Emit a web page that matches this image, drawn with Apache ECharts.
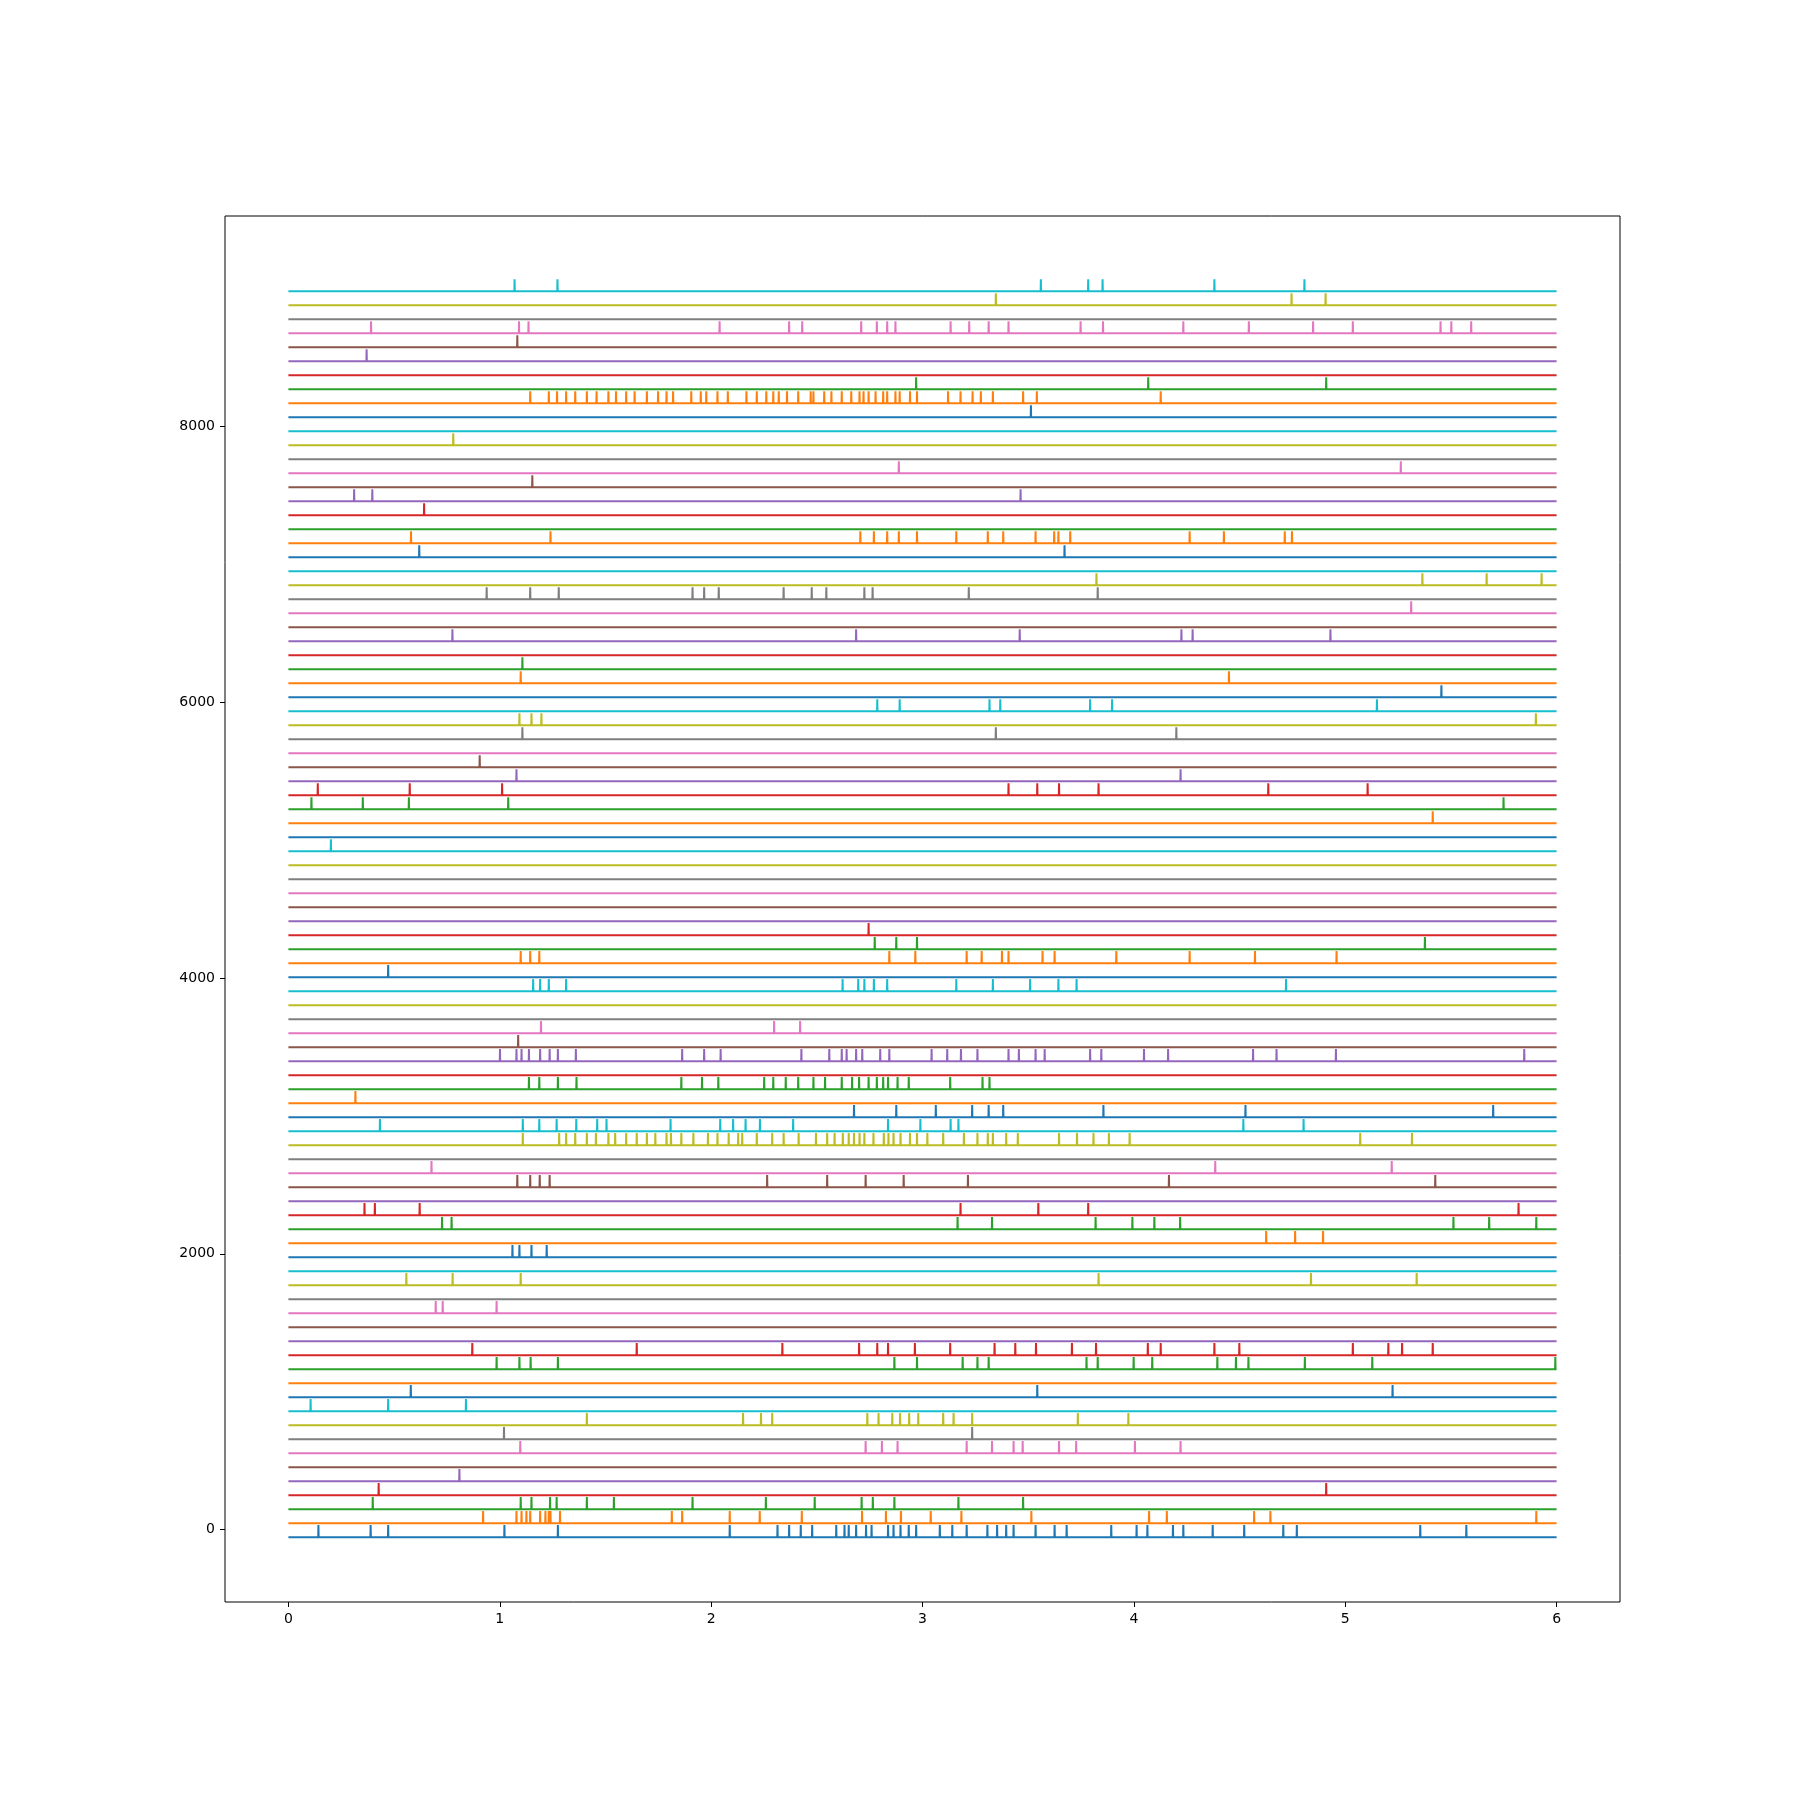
<!DOCTYPE html>
<html>
<head>
<meta charset="utf-8">
<script src="https://cdn.jsdelivr.net/npm/echarts@6/dist/echarts.min.js"></script>
<style>
html,body{margin:0;padding:0;background:#fff;}
#chart{width:1800px;height:1800px;}
</style>
</head>
<body>
<div id="chart"></div>
<script>
// tab10 colour cycle
const colors = ['#1f77b4','#ff7f0e','#2ca02c','#d62728','#9467bd','#8c564b','#e377c2','#7f7f7f','#bcbd22','#17becf'];
const xTicks = [0,1,2,3,4,5,6];
const yTicks = [0,2000,4000,6000,8000];
const baseline0 = -55;      // resting level of trace 0
const traceStep = 101.5;    // vertical offset between traces
const spikeHeight = 88;
const tEnd = 6;

// spike times (s) for each trace, bottom (0) to top (89)
const spikes = [
/*0*/ [0.141,0.388,0.471,1.021,1.274,2.087,2.313,2.368,2.423,2.477,2.591,2.630,2.650,2.685,2.732,2.758,2.836,2.862,2.895,2.934,2.969,3.081,3.140,3.208,3.306,3.352,3.395,3.430,3.534,3.624,3.681,3.892,4.012,4.063,4.184,4.233,4.372,4.521,4.706,4.770,5.354,5.572],
/*1*/ [0.920,1.078,1.102,1.125,1.143,1.190,1.215,1.231,1.239,1.284,1.813,1.862,2.087,2.229,2.428,2.713,2.826,2.897,3.038,3.183,3.514,4.071,4.155,4.568,4.645,5.903],
/*2*/ [0.398,1.098,1.149,1.237,1.268,1.411,1.539,1.911,2.258,2.489,2.711,2.764,2.866,3.169,3.475],
/*3*/ [0.426,4.909],
/*4*/ [0.808],
/*5*/ [],
/*6*/ [1.096,2.730,2.807,2.881,3.208,3.328,3.430,3.473,3.645,3.726,4.004,4.220],
/*7*/ [1.019,3.234],
/*8*/ [1.411,2.150,2.235,2.288,2.738,2.791,2.856,2.893,2.936,2.979,3.097,3.146,3.234,3.734,3.973],
/*9*/ [0.104,0.471,0.839],
/*10*/ [0.578,3.542,5.223],
/*11*/ [],
/*12*/ [0.984,1.092,1.145,1.274,2.866,2.973,3.189,3.259,3.312,3.775,3.828,3.998,4.086,4.394,4.482,4.541,4.808,5.127,5.993],
/*13*/ [0.869,1.647,2.336,2.699,2.785,2.836,2.963,3.130,3.340,3.438,3.536,3.706,3.820,4.065,4.126,4.380,4.498,5.035,5.203,5.268,5.413],
/*14*/ [],
/*15*/ [],
/*16*/ [0.696,0.729,0.984],
/*17*/ [],
/*18*/ [0.557,0.776,1.098,3.832,4.837,5.337],
/*19*/ [],
/*20*/ [1.059,1.092,1.149,1.221],
/*21*/ [4.625,4.762,4.894],
/*22*/ [0.726,0.771,3.165,3.328,3.818,3.992,4.096,4.218,5.511,5.680,5.903],
/*23*/ [0.359,0.408,0.620,3.179,3.547,3.783,5.819],
/*24*/ [],
/*25*/ [1.082,1.143,1.188,1.235,2.264,2.548,2.730,2.910,3.214,4.165,5.425],
/*26*/ [0.676,4.384,5.219],
/*27*/ [],
/*28*/ [1.108,1.280,1.313,1.356,1.411,1.454,1.513,1.545,1.597,1.647,1.695,1.735,1.788,1.809,1.858,1.915,1.984,2.029,2.082,2.127,2.146,2.215,2.288,2.342,2.413,2.495,2.548,2.583,2.622,2.650,2.675,2.701,2.724,2.767,2.816,2.838,2.862,2.895,2.940,2.973,3.022,3.097,3.195,3.259,3.308,3.332,3.395,3.450,3.645,3.730,3.808,3.881,3.979,5.070,5.315],
/*29*/ [0.432,1.108,1.186,1.268,1.361,1.460,1.504,1.807,2.042,2.103,2.162,2.230,2.387,2.836,2.989,3.132,3.169,4.517,4.802],
/*30*/ [2.675,2.875,3.062,3.234,3.312,3.381,3.855,4.527,5.699],
/*31*/ [0.316],
/*32*/ [1.137,1.186,1.274,1.362,1.858,1.956,2.033,2.250,2.293,2.352,2.411,2.483,2.538,2.617,2.666,2.699,2.744,2.783,2.813,2.836,2.881,2.934,3.130,3.283,3.316],
/*33*/ [],
/*34*/ [1.000,1.078,1.102,1.137,1.190,1.235,1.274,1.359,1.862,1.966,2.044,2.426,2.558,2.617,2.640,2.685,2.714,2.799,2.842,3.042,3.116,3.181,3.259,3.406,3.455,3.534,3.577,3.792,3.845,4.047,4.161,4.563,4.674,4.955,5.846],
/*35*/ [1.086],
/*36*/ [1.194,2.297,2.420],
/*37*/ [],
/*38*/ [],
/*39*/ [1.157,1.190,1.231,1.313,2.621,2.695,2.724,2.769,2.832,3.159,3.332,3.508,3.642,3.728,4.719],
/*40*/ [0.471],
/*41*/ [1.098,1.143,1.186,2.842,2.965,3.208,3.279,3.375,3.406,3.567,3.624,3.916,4.263,4.572,4.958],
/*42*/ [2.773,2.875,2.973,5.376],
/*43*/ [2.744],
/*44*/ [],
/*45*/ [],
/*46*/ [],
/*47*/ [],
/*48*/ [],
/*49*/ [0.200],
/*50*/ [],
/*51*/ [5.413],
/*52*/ [0.108,0.351,0.569,1.039,5.748],
/*53*/ [0.138,0.573,1.010,3.406,3.542,3.645,3.832,4.635,5.105],
/*54*/ [1.078,4.220],
/*55*/ [0.904],
/*56*/ [],
/*57*/ [1.106,3.346,4.200],
/*58*/ [1.092,1.149,1.196,5.901],
/*59*/ [2.785,2.891,3.316,3.367,3.792,3.896,5.149],
/*60*/ [5.454],
/*61*/ [1.098,4.449],
/*62*/ [1.106],
/*63*/ [],
/*64*/ [0.775,2.685,3.459,4.224,4.277,4.929],
/*65*/ [],
/*66*/ [5.311],
/*67*/ [0.937,1.143,1.278,1.911,1.966,2.035,2.342,2.475,2.544,2.724,2.763,3.218,3.828],
/*68*/ [3.822,5.364,5.668,5.928],
/*69*/ [],
/*70*/ [0.618,3.671],
/*71*/ [0.579,1.239,2.705,2.769,2.832,2.887,2.973,3.159,3.308,3.381,3.534,3.622,3.642,3.698,4.263,4.425,4.713,4.747],
/*72*/ [],
/*73*/ [0.641],
/*74*/ [0.310,0.396,3.463],
/*75*/ [1.153],
/*76*/ [2.887,5.262],
/*77*/ [],
/*78*/ [0.779],
/*79*/ [],
/*80*/ [3.512],
/*81*/ [1.143,1.231,1.270,1.313,1.356,1.411,1.457,1.513,1.549,1.597,1.637,1.695,1.748,1.788,1.819,1.905,1.950,1.976,2.029,2.078,2.166,2.215,2.260,2.293,2.319,2.358,2.411,2.470,2.483,2.534,2.568,2.617,2.662,2.701,2.720,2.744,2.777,2.813,2.832,2.871,2.891,2.940,2.973,3.120,3.179,3.236,3.275,3.332,3.475,3.540,4.126],
/*82*/ [2.969,4.067,4.909],
/*83*/ [],
/*84*/ [0.369],
/*85*/ [1.082],
/*86*/ [0.390,1.090,1.135,2.039,2.368,2.430,2.709,2.783,2.832,2.871,3.132,3.220,3.312,3.406,3.747,3.853,4.233,4.543,4.847,5.035,5.450,5.501,5.595],
/*87*/ [],
/*88*/ [3.346,4.745,4.906],
/*89*/ [1.069,1.272,3.559,3.783,3.851,4.380,4.806]
];

function buildTrace(times, base) {
  const pts = [[0, base]];
  for (const t of times) {
    pts.push([t, base]);
    pts.push([t + 0.001, base + spikeHeight]);
    pts.push([t + 0.002, base]);
  }
  pts.push([tEnd, base]);
  return pts;
}

const series = spikes.map((times, i) => ({
  type: 'line',
  data: buildTrace(times, baseline0 + i * traceStep),
  showSymbol: false,
  symbol: 'none',
  sampling: 'none',
  animation: false,
  silent: true,
  lineStyle: { width: 2, color: colors[i % 10], join: 'miter' },
  itemStyle: { color: colors[i % 10] }
}));

const chart = echarts.init(document.getElementById('chart'), null, { renderer: 'canvas' });
const labelFont = { color: '#000', fontSize: 14, fontFamily: 'DejaVu Sans' };
chart.setOption({
  animation: false,
  backgroundColor: '#fff',
  grid: { left: 225, right: 180, top: 216, bottom: 198, show: true, borderColor: '#000', borderWidth: 1, backgroundColor: 'transparent' },
  xAxis: {
    type: 'value', min: -0.3, max: 6.3, position: 'bottom',
    axisLine: { show: false, onZero: false },
    splitLine: { show: false },
    axisTick: { show: true, length: 5, inside: false, customValues: xTicks, lineStyle: { color: '#000', width: 1 } },
    axisLabel: Object.assign({ show: true, margin: 10, customValues: xTicks, formatter: v => String(v) }, labelFont)
  },
  yAxis: {
    type: 'value', min: -525, max: 9525, position: 'left',
    axisLine: { show: false, onZero: false },
    splitLine: { show: false },
    axisTick: { show: true, length: 5, inside: false, customValues: yTicks, lineStyle: { color: '#000', width: 1 } },
    axisLabel: Object.assign({ show: true, margin: 10, customValues: yTicks, formatter: v => String(v) }, labelFont)
  },
  series: series
});
</script>
</body>
</html>
